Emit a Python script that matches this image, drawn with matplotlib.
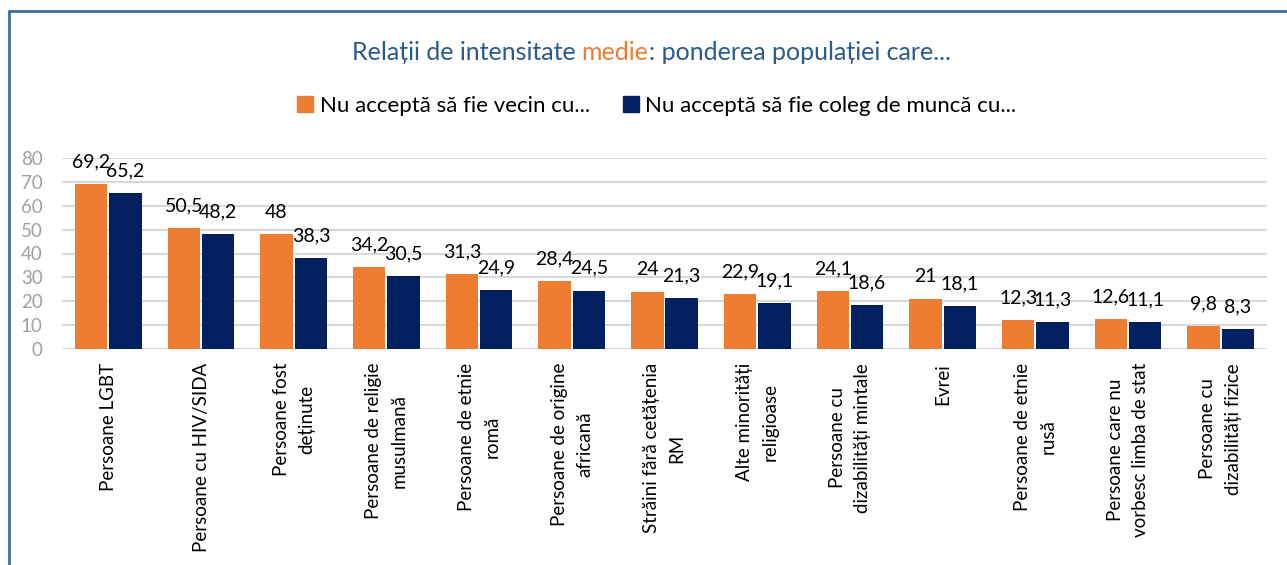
import matplotlib
matplotlib.use("Agg")
import matplotlib.pyplot as plt
import numpy as np
from matplotlib.patches import Patch, Rectangle

plt.rcParams['font.family'] = ['Lato', 'DejaVu Sans']

# === Date ===
categorii = [
    "Persoane LGBT",
    "Persoane cu HIV/SIDA",
    "Persoane fost\ndeținute",
    "Persoane de religie\nmusulmană",
    "Persoane de etnie\nromă",
    "Persoane de origine\nafricană",
    "Străini fără cetățenia\nRM",
    "Alte minorități\nreligioase",
    "Persoane cu\ndizabilități mintale",
    "Evrei",
    "Persoane de etnie\nrusă",
    "Persoane care nu\nvorbesc limba de stat",
    "Persoane cu\ndizabilități fizice",
]
vecin = [69.2, 50.5, 48, 34.2, 31.3, 28.4, 24, 22.9, 24.1, 21, 12.3, 12.6, 9.8]
coleg = [65.2, 48.2, 38.3, 30.5, 24.9, 24.5, 21.3, 19.1, 18.6, 18.1, 11.3, 11.1, 8.3]
serii = ["Nu acceptă să fie vecin cu...", "Nu acceptă să fie coleg de muncă cu..."]
y_ticks = [0, 10, 20, 30, 40, 50, 60, 70, 80]

ORANGE = "#ED7D31"
NAVY = "#002060"
TITLU = "#2A5B8C"

W, H = 1287, 565
fig = plt.figure(figsize=(W / 100, H / 100), dpi=100)
ax = fig.add_axes([62 / W, 1 - 349 / H, (1267 - 62) / W, (349 - 158) / H])

x = np.arange(len(categorii))
lat = 0.35
b1 = ax.bar(x - 0.185, vecin, lat, color=ORANGE, zorder=3)
b2 = ax.bar(x + 0.185, coleg, lat, color=NAVY, zorder=3)

fmt = lambda v: f"{v:g}".replace(".", ",")
for bars, vals in ((b1, vecin), (b2, coleg)):
    for b, v in zip(bars, vals):
        ax.annotate(fmt(v), (b.get_x() + b.get_width() / 2, v), xytext=(0, 12),
                    textcoords="offset points", ha="center", va="baseline",
                    fontsize=14, color="black", zorder=4)

ax.set_xlim(-0.5, len(categorii) - 0.5)
ax.set_ylim(0, 80)
ax.set_yticks(y_ticks)
ax.yaxis.grid(True, color="#D9D9D9", linewidth=1.5, zorder=0)
for s in ax.spines.values():
    s.set_visible(False)
ax.tick_params(axis="y", length=0, labelsize=13.5, labelcolor="#A0A0A0", pad=14)
ax.tick_params(axis="x", length=0, pad=10)
ax.set_xticks(x)
ax.set_xticklabels(categorii, rotation=90, fontsize=13.5, ha="center", va="top",
                   multialignment="center", linespacing=1.6)

# === Titlu cu "medie" in portocaliu ===
parti = [("Relații de intensitate ", TITLU), ("medie", ORANGE),
         (": ponderea populației care...", TITLU)]
fig.canvas.draw()
r = fig.canvas.get_renderer()
texte = [fig.text(0, 1 - 52 / H, t, color=c, fontsize=18, va="center") for t, c in parti]
latimi = [t.get_window_extent(r).width for t in texte]
x0 = 651 - sum(latimi) / 2
for t, w in zip(texte, latimi):
    t.set_x(x0 / W)
    x0 += w

# === Legenda ===
fig.legend(handles=[Patch(color=ORANGE), Patch(color=NAVY)], labels=serii,
           loc="center", bbox_to_anchor=(657 / W, 1 - 106 / H), ncol=2, frameon=False,
           fontsize=16, handlelength=0.7, handleheight=0.7, handletextpad=0.3,
           columnspacing=1.5)

# === Chenar ===
fig.patches.append(Rectangle((8.5 / W, -0.1), 1.2, 1 - 11 / H + 0.1, transform=fig.transFigure,
                             fill=False, edgecolor="#3F6E9E", linewidth=2))

fig.savefig("out.png", dpi=100)
